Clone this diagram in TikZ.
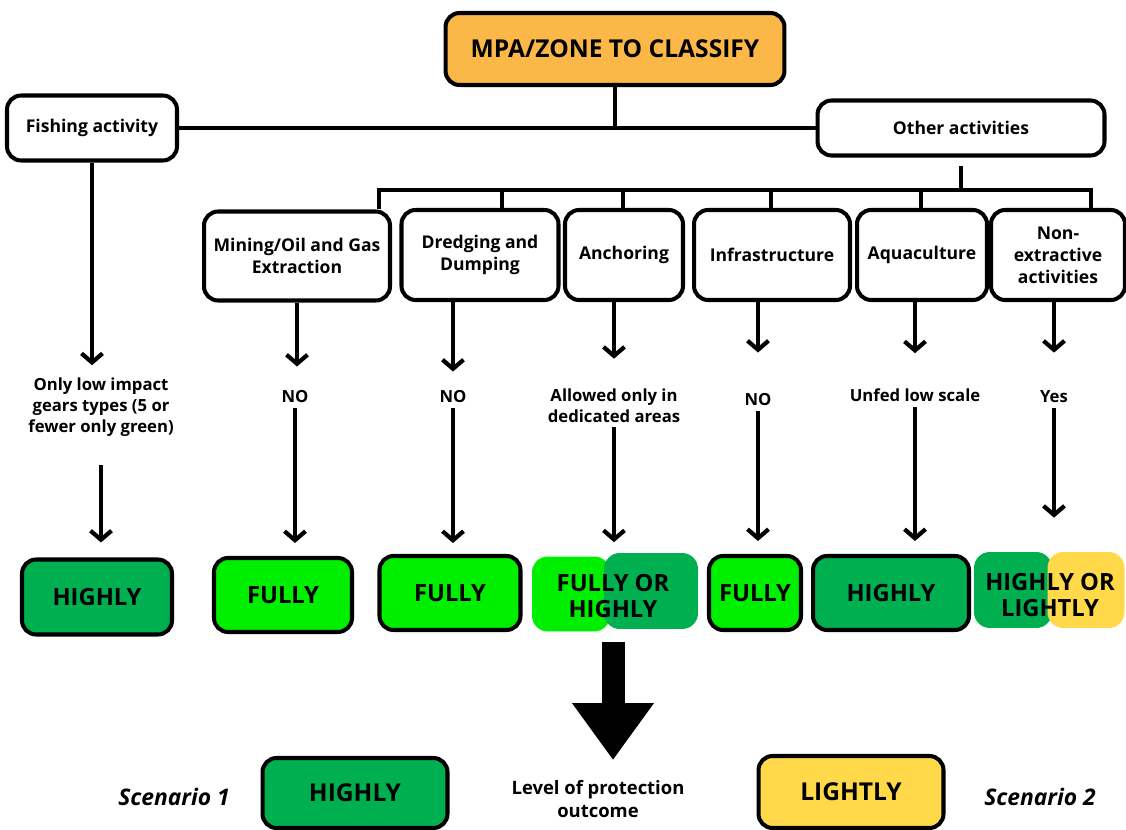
\documentclass[tikz,border=0pt]{standalone}
\usepackage{fontspec}
\setmainfont{Open Sans}
\usepackage{tikz}
\usetikzlibrary{arrows.meta,positioning}
\definecolor{mpaorange}{HTML}{FBB848}
\definecolor{highgreen}{HTML}{00B050}
\definecolor{fullgreen}{HTML}{00EE00}
\definecolor{lowyellow}{HTML}{FFD94A}
\tikzset{
    box/.style={rectangle, rounded corners=8pt, draw, line width=2.3pt, align=center, font=\bfseries\fontsize{10}{12.5}\selectfont},
    result/.style={box, font=\bfseries\fontsize{13.5}{15}\selectfont},
    patch/.style={rectangle, rounded corners=9pt, inner sep=0pt},
    lbl/.style={inner sep=0pt, align=center, font=\bfseries\fontsize{9.5}{12}\selectfont},
    line/.style={draw, line width=2.2pt},
    arr/.style={draw, line width=2.4pt, -{Straight Barb[length=1.8mm,width=4.2mm]}},
    bigarr/.style={draw, line width=0.46cm, -{Triangle[length=1.14cm,width=1.56cm]}}
}
\begin{document}
\begin{tikzpicture}[x=0.02cm, y=-0.02cm]
    \useasboundingbox (0,0) rectangle (1126,830);

    % Nodes
    \node[box, fill=mpaorange, minimum width=6.78cm, minimum height=1.44cm, font=\bfseries\fontsize{14}{16}\selectfont] (mpa) at (615,49) {MPA/ZONE TO CLASSIFY};
    \node[box, minimum width=3.4cm, minimum height=1.3cm] (fish) at (92,128) {Fishing activity};
    \node[box, minimum width=5.74cm, minimum height=1.1cm] (other) at (961,128) {Other activities};

    \node[box, minimum width=3.72cm, minimum height=1.78cm] (mining) at (297,256) {Mining/Oil and Gas\\Extraction};
    \node[box, minimum width=3.14cm, minimum height=1.8cm] (dredge) at (480,255) {Dredging and\\Dumping};
    \node[box, minimum width=2.36cm, minimum height=1.8cm] (anchor) at (624,255) {Anchoring};
    \node[box, minimum width=3.12cm, minimum height=1.8cm] (infra) at (772,255) {Infrastructure};
    \node[box, minimum width=2.6cm, minimum height=1.8cm] (aqua) at (922,255) {Aquaculture};
    \node[box, minimum width=2.68cm, minimum height=1.8cm] (nonext) at (1058,255) {Non-\\extractive\\activities};

    % conditions
    \node[lbl] (fishq) at (101,407) {Only low impact\\gears types (5 or\\fewer only green)};
    \node[lbl] (minq) at (295,397) {NO};
    \node[lbl] (dredq) at (453,397) {NO};
    \node[lbl] (anchq) at (614,406) {Allowed only in\\dedicated areas};
    \node[lbl] (infq) at (758,400) {NO};
    \node[lbl] (aquq) at (915,395) {Unfed low scale};
    \node[lbl] (nonq) at (1054,397) {Yes};

    % results
    \node[result, fill=highgreen, minimum width=3cm, minimum height=1.5cm] (r1) at (97,597) {HIGHLY};
    \node[result, fill=fullgreen, minimum width=2.76cm, minimum height=1.48cm] (r2) at (283,595) {FULLY};
    \node[result, fill=fullgreen, minimum width=2.82cm, minimum height=1.48cm] (r3) at (450,593) {FULLY};
    \node[patch, fill=fullgreen, minimum width=1.56cm, minimum height=1.5cm] (r4a) at (571,594) {};
    \node[patch, fill=highgreen, minimum width=1.88cm, minimum height=1.52cm] (r4b) at (651,591) {};
    \node[result, draw=none, align=center] (r4) at (613,596) {FULLY OR\\HIGHLY};
    \node[result, fill=fullgreen, minimum width=1.84cm, minimum height=1.48cm] (r5) at (755,593) {FULLY};
    \node[result, fill=highgreen, minimum width=3.12cm, minimum height=1.48cm] (r6) at (891,593) {HIGHLY};
    \node[patch, fill=highgreen, minimum width=1.56cm, minimum height=1.52cm] (r7g) at (1013,590) {};
    \node[patch, fill=lowyellow, minimum width=1.54cm, minimum height=1.52cm] (r7y) at (1086,590) {};
    \node[result, draw=none, align=center] (r7) at (1050,595) {HIGHLY OR\\LIGHTLY};

    % outcome
    \node[font=\bfseries\itshape\fontsize{13}{15}\selectfont] (sc1) at (174,797) {Scenario 1};
    \node[result, fill=highgreen, minimum width=3.7cm, minimum height=1.4cm, font=\bfseries\fontsize{14}{16}\selectfont] (out1) at (355,793) {HIGHLY};
    \node[lbl, font=\bfseries\fontsize{10.5}{13}\selectfont] (outc) at (598,799) {Level of protection\\outcome};
    \node[result, fill=lowyellow, minimum width=3.7cm, minimum height=1.44cm, font=\bfseries\fontsize{14}{16}\selectfont] (out2) at (851,792) {LIGHTLY};
    \node[font=\bfseries\itshape\fontsize{13}{15}\selectfont] (sc2) at (1040,797) {Scenario 2};

    % bus
    \coordinate (b1) at (379,190);
    \coordinate (b2) at (502,190);
    \coordinate (b3) at (623,190);
    \coordinate (b4) at (771,190);
    \coordinate (b5) at (921,190);
    \coordinate (b6) at (1091,190);

    % edges
    \draw[line] (fish) -- (other);
    \draw[line] (mpa) -- (mpa |- fish.east);
    \draw[line, shorten <=0.16cm] (other) -- (other |- b1);
    \draw[line] (b1 |- mining.north) -- (b1) -- (b6) -- (b6 |- nonext.north);
    \draw[line] (b2) -- (b2 |- dredge.north);
    \draw[line] (b3) -- (b3 |- anchor.north);
    \draw[line] (b4) -- (b4 |- infra.north);
    \draw[line] (b5) -- (b5 |- aqua.north);

    \draw[arr, shorten >=0.24cm] (fish) -- (fish |- fishq.north);
    \draw[arr, shorten <=0.56cm, shorten >=0.3cm] (fishq) -- (fishq |- r1.north);
    \draw[arr, shorten >=0.48cm] (mining) -- (mining |- minq.north);
    \draw[arr, shorten <=0.1cm, shorten >=0.26cm] (minq) -- (minq |- r2.north);
    \draw[arr, shorten >=0.38cm] (dredge.south -| dredq) -- (dredq);
    \draw[arr, shorten <=0.1cm, shorten >=0.22cm] (dredq) -- (dredq |- r3.north);
    \draw[arr, shorten >=0.6cm] (anchor.south -| anchq) -- (anchq);
    \draw[arr, shorten <=0.08cm, shorten >=0.28cm] (anchq) -- (anchq |- r4a.north);
    \draw[arr, shorten >=0.82cm] (infra.south -| infq) -- (infq);
    \draw[arr, shorten <=0.1cm, shorten >=0.26cm] (infq) -- (infq |- r5.north);
    \draw[arr, shorten >=0.7cm] (aqua.south -| aquq) -- (aquq);
    \draw[arr, shorten <=0.1cm, shorten >=0.26cm] (aquq) -- (aquq |- r6.north);
    \draw[arr, shorten >=0.76cm] (nonext.south -| nonq) -- (nonq);
    \draw[arr, shorten <=0.1cm, shorten >=0.68cm] (nonq) -- (nonq |- r7g.north);

    \draw[bigarr, shorten <=0.2cm, shorten >=0.4cm] (r4a.south -| r4) -- (r4 |- outc.north);
\end{tikzpicture}
\end{document}
